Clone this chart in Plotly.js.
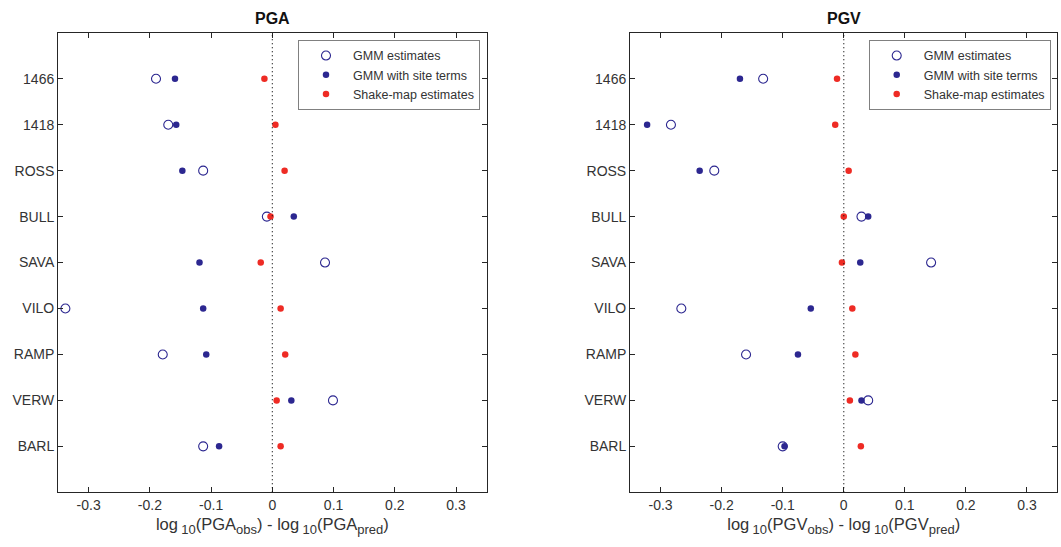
<!DOCTYPE html>
<html>
<head>
<meta charset="utf-8">
<script src="https://cdn.plot.ly/plotly-3.0.1.min.js"></script>
<style>html,body{margin:0;padding:0;background:#fff;}#chart{width:1061px;height:547px;}</style>
</head>
<body>
<div id="chart"></div>
<script>
// ---- data ----
const stations = ["1466", "1418", "ROSS", "BULL", "SAVA", "VILO", "RAMP", "VERW", "BARL"];

const pgaGMM      = [-0.190, -0.170, -0.113, -0.009,  0.086, -0.338, -0.179,  0.099, -0.113];
const pgaGMMSite  = [-0.159, -0.157, -0.147,  0.035, -0.119, -0.113, -0.108,  0.031, -0.087];
const pgaShakeMap = [-0.013,  0.005,  0.020, -0.003, -0.019,  0.0135, 0.021,  0.007,  0.0135];

const pgvGMM      = [-0.132, -0.283, -0.212,  0.029,  0.143, -0.266, -0.160,  0.040, -0.100];
const pgvGMMSite  = [-0.170, -0.322, -0.236,  0.040,  0.027, -0.054, -0.075,  0.029, -0.097];
const pgvShakeMap = [-0.011, -0.014,  0.008,  0.000, -0.003,  0.014,  0.019,  0.010,  0.028];

const xTickVals = [-0.3, -0.2, -0.1, 0, 0.1, 0.2, 0.3];
const xTickText = ["-0.3", "-0.2", "-0.1", "0", "0.1", "0.2", "0.3"];

const seriesNames = ["GMM estimates", "GMM with site terms", "Shake-map estimates"];
const panelTitles = ["PGA", "PGV"];
const quantities = ["PGA", "PGV"];

// ---- styling ----
const NAVY = "#2c2790";
const RED = "#ee2b24";
const AX = "#262626";
const TXT = "#333333";
const FONT = "Liberation Sans, Arial, sans-serif";

function sub(t) { return "<sub><span style=\"font-size:13px\">" + t + "</span></sub>"; }
function xTitle(q) {
  return "log\u2009" + sub("10") + "(" + q + sub("obs") + ") - log\u2009" + sub("10") + "(" + q + sub("pred") + ")";
}

function panelTraces(gmm, site, shake, xa, ya, leg) {
  return [
    {x: gmm, y: stations, xaxis: xa, yaxis: ya, type: "scatter", mode: "markers",
     name: seriesNames[0], legend: leg,
     marker: {symbol: "circle-open", size: 9, color: NAVY, line: {width: 1.1, color: NAVY}}},
    {x: site, y: stations, xaxis: xa, yaxis: ya, type: "scatter", mode: "markers",
     name: seriesNames[1], legend: leg,
     marker: {symbol: "circle", size: 6.5, color: NAVY}},
    {x: shake, y: stations, xaxis: xa, yaxis: ya, type: "scatter", mode: "markers",
     name: seriesNames[2], legend: leg,
     marker: {symbol: "circle", size: 6.5, color: RED}}
  ];
}

const data = [
  ...panelTraces(pgaGMM, pgaGMMSite, pgaShakeMap, "x", "y", "legend"),
  ...panelTraces(pgvGMM, pgvGMMSite, pgvShakeMap, "x2", "y2", "legend2")
];

function xaxisDef(domain, title, anchor) {
  return {
    domain: domain, anchor: anchor, range: [-0.35, 0.35],
    tickmode: "array", tickvals: xTickVals, ticktext: xTickText,
    ticks: "inside", ticklen: 5, tickwidth: 1, tickcolor: AX,
    showline: true, linecolor: AX, linewidth: 1, mirror: "ticks",
    showgrid: false, zeroline: false,
    tickfont: {family: FONT, size: 14, color: TXT},
    title: {text: title, font: {family: FONT, size: 16.5, color: TXT}, standoff: 6}
  };
}
function yaxisDef(anchor) {
  return {
    domain: [0.1, 0.94], anchor: anchor,
    type: "category", categoryorder: "array", categoryarray: stations,
    range: [stations.length, -1],
    ticks: "inside", ticklen: 5, tickwidth: 1, tickcolor: AX,
    showline: true, linecolor: AX, linewidth: 1, mirror: "ticks",
    showgrid: false, zeroline: false,
    tickfont: {family: FONT, size: 14, color: TXT}
  };
}
function legendDef(xRight) {
  return {
    x: xRight, xanchor: "right", y: 0.927, yanchor: "top",
    bgcolor: "#ffffff", bordercolor: "#808080", borderwidth: 1,
    font: {family: FONT, size: 12.5, color: TXT},
    tracegroupgap: 0, itemwidth: 44
  };
}

const layout = {
  width: 1061, height: 547,
  margin: {l: 0, r: 0, t: 0, b: 0},
  paper_bgcolor: "#ffffff", plot_bgcolor: "#ffffff",
  font: {family: FONT, color: TXT},
  xaxis: xaxisDef([0.0547, 0.4587], xTitle(quantities[0]), "y"),
  yaxis: yaxisDef("x"),
  xaxis2: xaxisDef([0.5938, 0.9967], xTitle(quantities[1]), "y2"),
  yaxis2: yaxisDef("x2"),
  showlegend: true,
  legend: legendDef(0.4524),
  legend2: legendDef(0.9903),
  shapes: [
    {type: "line", xref: "x", yref: "y domain", x0: 0, x1: 0, y0: 0, y1: 1,
     line: {color: "#111", width: 1.2, dash: "1px,3px"}},
    {type: "line", xref: "x2", yref: "y2 domain", x0: 0, x1: 0, y0: 0, y1: 1,
     line: {color: "#111", width: 1.2, dash: "1px,3px"}}
  ],
  annotations: [
    {text: "<b>" + panelTitles[0] + "</b>", xref: "x domain", yref: "paper", x: 0.5, y: 0.9665,
     xanchor: "center", yanchor: "middle", showarrow: false, font: {family: FONT, size: 16, color: "#111"}},
    {text: "<b>" + panelTitles[1] + "</b>", xref: "x2 domain", yref: "paper", x: 0.5, y: 0.9665,
     xanchor: "center", yanchor: "middle", showarrow: false, font: {family: FONT, size: 16, color: "#111"}}
  ]
};

Plotly.newPlot("chart", data, layout, {staticPlot: true, displayModeBar: false});
</script>
</body>
</html>
